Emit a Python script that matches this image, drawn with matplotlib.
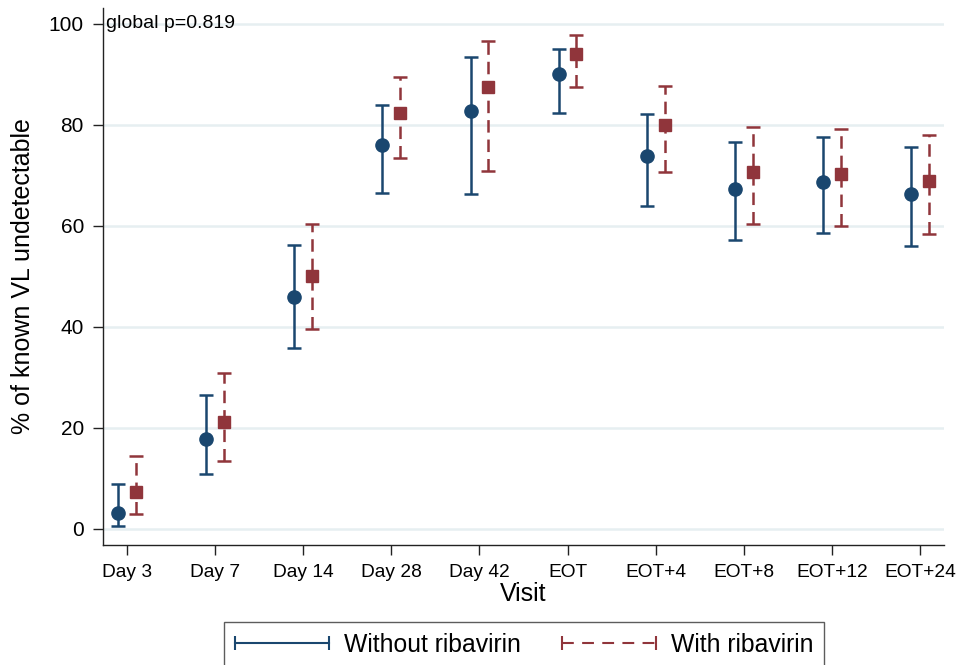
import matplotlib
matplotlib.use("Agg")
import matplotlib.pyplot as plt
import matplotlib.transforms as mtransforms
from matplotlib.lines import Line2D
from matplotlib.legend_handler import HandlerLine2D

plt.rcParams['font.family'] = ['Liberation Sans', 'DejaVu Sans']
plt.rcParams['lines.scale_dashes'] = False

visits = ['Day 3', 'Day 7', 'Day 14', 'Day 28', 'Day 42', 'EOT',
          'EOT+4', 'EOT+8', 'EOT+12', 'EOT+24']
without_est = [3.1, 17.8, 45.9, 76.0, 82.8, 90.0, 73.9, 67.3, 68.7, 66.3]
without_lo = [0.6, 10.8, 35.8, 66.4, 66.3, 82.4, 64.0, 57.2, 58.6, 56.0]
without_hi = [8.9, 26.6, 56.2, 83.9, 93.4, 95.0, 82.1, 76.5, 77.6, 75.6]
with_est = [7.3, 21.2, 50.0, 82.4, 87.5, 94.0, 80.0, 70.6, 70.2, 68.8]
with_lo = [2.9, 13.5, 39.6, 73.5, 70.9, 87.4, 70.6, 60.3, 59.9, 58.4]
with_hi = [14.5, 30.9, 60.4, 89.4, 96.5, 97.7, 87.6, 79.5, 79.1, 78.0]
yticks = [0, 20, 40, 60, 80, 100]
p_text = 'global p=0.819'

navy = '#1a476f'
maroon = '#90353b'
grid_c = '#e6eff1'

fig = plt.figure(figsize=(9.59, 6.65), dpi=100)
ax = fig.add_axes([0.1074, 0.1805, 0.8770, 0.8075])

x = list(range(len(visits)))
off = 0.1
x1 = [v - off for v in x]
x2 = [v + off for v in x]

err1 = [[e - l for e, l in zip(without_est, without_lo)],
        [h - e for e, h in zip(without_est, without_hi)]]
err2 = [[e - l for e, l in zip(with_est, with_lo)],
        [h - e for e, h in zip(with_est, with_hi)]]

for yv in yticks:
    ax.axhline(yv, color=grid_c, lw=1.8, zorder=0)

eb1 = ax.errorbar(x1, without_est, yerr=err1, fmt='o', color=navy,
                  ms=9.5, elinewidth=1.8, capsize=4.7, capthick=1.8, zorder=3)
eb2 = ax.errorbar(x2, with_est, yerr=err2, fmt='s', color=maroon,
                  ms=9.0, elinewidth=1.8, capsize=4.7, capthick=1.8, zorder=3)
eb2[2][0].set_linestyle((0, (9.0, 5.0)))

ax.set_xlim(-0.27, 9.27)
ax.set_ylim(-3.17, 103.1)
ax.set_xticks(x)
ax.set_xticklabels(visits, fontsize=13.8)
ax.set_yticks(yticks)
ax.set_yticklabels([str(v) for v in yticks], fontsize=15)
ax.tick_params(axis='both', direction='out', length=7.2, width=1.0,
               color='#222222', pad=6.5)
for s in ['top', 'right']:
    ax.spines[s].set_visible(False)
for s in ['left', 'bottom']:
    ax.spines[s].set_linewidth(1.0)
    ax.spines[s].set_color('#222222')

ax.set_xlabel('Visit', fontsize=18, labelpad=1)
ax.set_ylabel('% of known VL undetectable', fontsize=18, labelpad=10)

trans = mtransforms.blended_transform_factory(ax.transAxes, ax.transData)
ax.text(0.004, 100, p_text, transform=trans, ha='left', va='center',
        fontsize=14)

h1 = Line2D([], [], color=navy, lw=1.5, marker='|', ms=10, mew=1.5)
h2 = Line2D([], [], color=maroon, lw=1.5, marker='|', ms=10, mew=1.5,
            linestyle=(0, (8.5, 6.0)))
leg = fig.legend([h1, h2], ['Without ribavirin', 'With ribavirin'],
                 loc='upper center', bbox_to_anchor=(0.5464, 0.0647),
                 ncol=2, fontsize=17.8, numpoints=2, handlelength=3.8,
                 handletextpad=0.61, columnspacing=1.66, borderpad=0.45,
                 borderaxespad=0, fancybox=False, frameon=True,
                 handler_map={Line2D: HandlerLine2D(marker_pad=0)})
leg.get_frame().set_edgecolor('#333333')
leg.get_frame().set_linewidth(1.0)

fig.savefig('out.png', dpi=100, facecolor='white')
